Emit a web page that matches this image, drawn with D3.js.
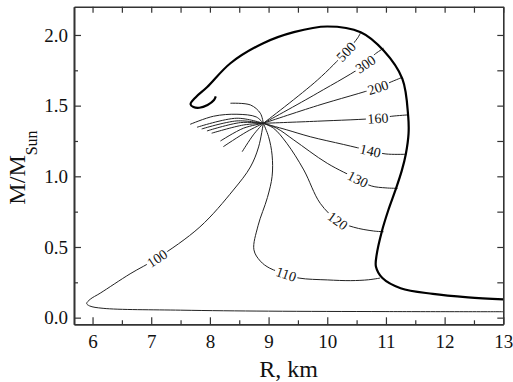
<!DOCTYPE html>
<html>
<head>
<meta charset="utf-8">
<script src="https://cdnjs.cloudflare.com/ajax/libs/d3/7.8.5/d3.min.js"></script>
<style>
  body { margin: 0; background: #fff; }
  svg text { font-family: "Liberation Serif", "Times New Roman", serif; fill: #111; }
</style>
</head>
<body>
<div id="chart"></div>
<script>
// thick mass-radius curve, R (km) and M (M_sun)
const curveR = [13.0, 12.4, 11.8, 11.25, 10.94, 10.83, 10.84, 10.93, 11.04, 11.16, 11.27, 11.34, 11.385, 11.38, 11.28, 10.96, 10.57, 10.0, 9.43, 8.9, 8.35, 7.95, 7.76, 7.67, 7.72, 7.82, 7.96, 8.07, 8.10]
const curveM = [0.13, 0.144, 0.168, 0.208, 0.28, 0.36, 0.44, 0.61, 0.76, 0.90, 1.04, 1.16, 1.30, 1.42, 1.69, 1.89, 2.02, 2.06, 2.02, 1.94, 1.80, 1.63, 1.56, 1.51, 1.49, 1.485, 1.505, 1.54, 1.565]

// point where all contours meet
const focus = [8.91, 1.375]

// contour branches to the right / below the focus, [R, M]
const line100 = [focus, [8.83, 1.208], [8.69, 1.066], [8.40, 0.903], [7.83, 0.642], [7.10, 0.42], [6.64, 0.31], [6.13, 0.173], [5.96, 0.13], [5.90, 0.10], [5.95, 0.083], [6.18, 0.066], [7.5, 0.053], [9.0, 0.046], [11.0, 0.043], [13.0, 0.042]]
const line110 = [focus, [9.0, 1.28], [9.06, 1.15], [9.06, 1.0], [8.98, 0.85], [8.82, 0.65], [8.75, 0.48], [8.86, 0.40], [9.02, 0.35], [9.30, 0.308], [9.52, 0.28], [10.0, 0.267], [10.4, 0.262], [10.7, 0.268], [10.9, 0.28]]
const line120 = [focus, [9.085, 1.34], [9.31, 1.234], [9.6, 1.045], [9.88, 0.809], [10.18, 0.686], [10.45, 0.64], [10.79, 0.613], [10.96, 0.608]]
const line130 = [focus, [9.14, 1.34], [9.43, 1.257], [10.0, 1.092], [10.52, 0.98], [10.75, 0.932], [11.0, 0.918], [11.2, 0.915]]
const line140 = [focus, [9.3, 1.33], [9.71, 1.28], [10.28, 1.225], [10.735, 1.181], [11.0, 1.158], [11.33, 1.156]]
const line160 = [focus, [9.83, 1.39], [10.864, 1.411], [11.1, 1.425], [11.39, 1.435]]
const line200 = [focus, [9.83, 1.50], [10.864, 1.629], [11.1, 1.67], [11.276, 1.70]]
const line300 = [focus, [9.83, 1.588], [10.65, 1.794], [10.8, 1.86], [10.96, 1.906]]
const line500 = [focus, [9.83, 1.68], [10.32, 1.882], [10.52, 1.98], [10.565, 2.014]]

const levels = ["100", "110", "120", "130", "140", "160", "200", "300", "500"]
const branches = [line100, line110, line120, line130, line140, line160, line200, line300, line500]

// short branches on the left of the focus
const stubs = [
  [[7.664, 1.368], [8.061, 1.425], [8.461, 1.439], [8.79, 1.42], focus],
  [[7.78, 1.347], [8.46, 1.411], focus],
  [[7.86, 1.335], [8.46, 1.392], focus],
  [[7.95, 1.321], [8.52, 1.38], focus],
  [[8.03, 1.305], [8.57, 1.363], focus],
  [[8.18, 1.25], [8.57, 1.34], focus],
  [[8.23, 1.21], [8.63, 1.316], focus],
  [[8.55, 1.174], [8.74, 1.293], focus],
  [[8.35, 1.517], [8.69, 1.505], [8.86, 1.446], focus]
]

const xTicks = [6, 7, 8, 9, 10, 11, 12, 13]
const xMinor = [6.5, 7.5, 8.5, 9.5, 10.5, 11.5, 12.5]
const yTicks = [0, 0.5, 1.0, 1.5, 2.0]
const yMinor = [0.25, 0.75, 1.25, 1.75]

const width = 513, height = 382
const plotL = 74, plotR = 503.3, plotT = 6.7, plotB = 324.3

const svg = d3.select("#chart").append("svg")
  .attr("width", width)
  .attr("height", height)

const x = d3.scaleLinear().domain([5.684, 13]).range([plotL, plotR])
const y = d3.scaleLinear().domain([-0.047, 2.2]).range([plotB, plotT])

const line = d3.line()
  .x(d => x(d[0]))
  .y(d => y(d[1]))
  .curve(d3.curveCatmullRom.alpha(0.5))

// thin contour lines
const thin = svg.append("g")
  .attr("fill", "none")
  .attr("stroke", "#222")
  .attr("stroke-width", 1)

thin.selectAll(".stub").data(stubs).enter()
  .append("path").attr("class", "stub").attr("d", line)

thin.selectAll(".branch").data(branches).enter()
  .append("path").attr("class", "branch").attr("d", line)

// thick curve
const mr = curveR.map((r, i) => [r, curveM[i]])
svg.append("path")
  .attr("d", line(mr))
  .attr("fill", "none")
  .attr("stroke", "#000")
  .attr("stroke-width", 2.2)

// labels sit on a vertex of the branch, rotated along it
const labelIndex = [5, 9, 5, 4, 4, 2, 2, 2, 2]
branches.forEach((pts, k) => {
  const i = labelIndex[k]
  const a = pts[i - 1], b = pts[i + 1]
  let ang = Math.atan2(y(b[1]) - y(a[1]), x(b[0]) - x(a[0])) * 180 / Math.PI
  if (ang > 90) ang -= 180
  if (ang < -90) ang += 180
  const g = svg.append("g")
    .attr("transform", `translate(${x(pts[i][0])},${y(pts[i][1])}) rotate(${ang})`)
  const bg = g.append("rect").attr("fill", "#fff")
  const t = g.append("text")
    .attr("text-anchor", "middle")
    .attr("dy", "0.35em")
    .attr("font-size", 14)
    .text(levels[k])
  const bb = t.node().getBBox()
  bg.attr("x", bb.x - 1.5).attr("y", bb.y + 2)
    .attr("width", bb.width + 3).attr("height", bb.height - 4)
})

// axes, ticks pointing inward on all four sides
const fmt = d3.format(".1f")
function styleAxis(g) {
  g.select(".domain").attr("stroke", "#333").attr("stroke-width", 1.6)
  g.selectAll(".tick line").attr("stroke", "#333").attr("stroke-width", 1.2)
  g.selectAll("text").attr("font-size", 19).attr("font-family", '"Liberation Serif", serif').attr("fill", "#111")
}

svg.append("g").attr("transform", `translate(0,${plotB})`)
  .call(d3.axisBottom(x).tickValues(xTicks).tickSizeInner(-7).tickSizeOuter(0).tickPadding(10).tickFormat(d3.format("d")))
  .call(styleAxis)
svg.append("g").attr("transform", `translate(0,${plotB})`)
  .call(d3.axisBottom(x).tickValues(xMinor).tickSizeInner(-4).tickSizeOuter(0).tickFormat(""))
  .call(styleAxis)
svg.append("g").attr("transform", `translate(0,${plotT})`)
  .call(d3.axisTop(x).tickValues(xTicks.concat(xMinor)).tickSizeInner(-6).tickSizeOuter(0).tickFormat(""))
  .call(styleAxis)

svg.append("g").attr("transform", `translate(${plotL},0)`)
  .call(d3.axisLeft(y).tickValues(yTicks).tickSizeInner(-7).tickSizeOuter(0).tickPadding(6).tickFormat(fmt))
  .call(styleAxis)
svg.append("g").attr("transform", `translate(${plotL},0)`)
  .call(d3.axisLeft(y).tickValues(yMinor).tickSizeInner(-4).tickSizeOuter(0).tickFormat(""))
  .call(styleAxis)
svg.append("g").attr("transform", `translate(${plotR},0)`)
  .call(d3.axisRight(y).tickValues(yTicks.concat(yMinor)).tickSizeInner(-6).tickSizeOuter(0).tickFormat(""))
  .call(styleAxis)

// axis titles
svg.append("text")
  .attr("x", (plotL + plotR) / 2)
  .attr("y", 377)
  .attr("text-anchor", "middle")
  .attr("font-size", 24)
  .text("R, km")

const yt = svg.append("text")
  .attr("transform", `translate(25,${(plotT + plotB) / 2 + 2}) rotate(-90)`)
  .attr("text-anchor", "middle")
  .attr("font-size", 24)
yt.append("tspan").text("M/M")
yt.append("tspan").attr("font-size", 16).attr("dy", 12).text("Sun")
</script>
</body>
</html>
